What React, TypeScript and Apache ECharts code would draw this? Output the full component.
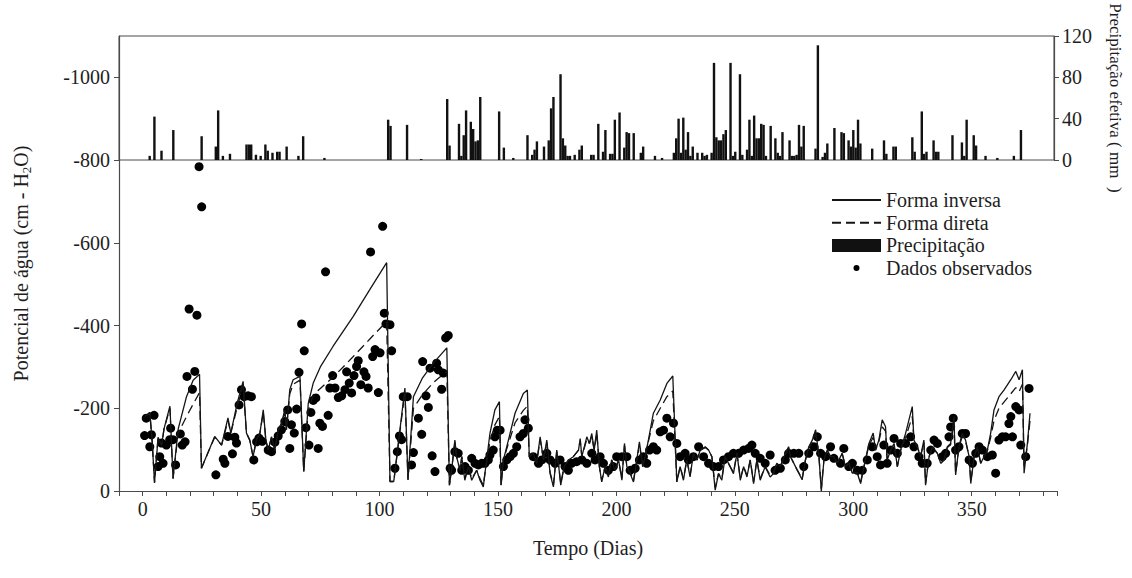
import React, { useEffect, useRef } from 'react';
import * as echarts from 'echarts';

const FONT = 'Liberation Serif';

// Tick labels
const xTickLabels = [0, 50, 100, 150, 200, 250, 300, 350];
const yLeftTicks = [-1000, -800, -600, -400, -200, 0];
const yRightTicks = [0, 40, 80, 120];

// Simulated water potential - inverse form (day, cm H2O)
const formaInversa: [number, number][] = [
  [1, -180], [3, -190], [4, -120], [5, -20], [6.5, -130], [8, -110], [9, -150], [11.5, -205], [12.8, -30],
  [15, -150], [18.5, -228], [21.3, -268], [24, -282], [24.8, -55], [30.4, -132], [33.3, -111], [36, -177],
  [37.2, -140], [40, -215], [42.4, -265], [43.8, -140], [45.2, -123], [46.6, -83], [48, -123], [49.5, -140],
  [50.9, -196], [52, -123], [53, -99], [54.4, -131], [55.8, -99], [57.2, -148], [58.6, -164], [60, -196],
  [60.7, -148], [62.1, -245], [63.5, -269], [66.4, -277], [68, -47], [69.9, -212], [72, -261], [75, -300],
  [80.4, -350], [88.9, -422], [96, -488], [103, -552], [104.4, -23], [106, -23], [110.7, -249], [112, -27],
  [114.3, -228], [118, -272], [122.7, -309], [128.4, -346],
  [129.5, -14], [130.4, -50], [131.8, -123], [132.5, -83], [134, -50], [134.7, -83], [136, -26], [137.5, -59],
  [138.9, -26], [141, -50], [142.4, -26], [143.8, -10], [144.5, -43], [146.6, -139], [148.7, -196], [150.6, -216],
  [151.3, -14], [152.3, -75], [154.4, -123], [157.2, -188], [160.7, -236], [162.4, -244], [163.2, -83],
  [164.9, -91], [166.3, -67], [167.8, -131], [169.2, -75], [170.6, -123], [172, -42], [173.4, -10], [174.8, -99],
  [175.5, -67], [176.5, -14], [177.9, -59], [179.7, -75], [181.8, -83], [184, -99], [184.7, -127], [185.4, -83],
  [187.5, -131], [188.6, -115], [189.6, -139], [190.6, -99], [191.7, -147], [192.8, -59], [193.8, -22],
  [195.2, -59], [196.6, -34], [198, -75], [199.4, -50], [200.9, -75], [202.3, -26], [203.4, -115], [204.4, -59],
  [205.8, -42], [207.2, -22], [208.6, -75], [209.7, -119], [211.1, -59], [212.1, -83], [213.5, -123],
  [215.6, -188], [218.5, -220], [221.3, -260], [223.8, -278], [225.5, -22], [226.9, -59], [228.3, -26],
  [229.7, -75], [231.1, -34], [232.5, -91], [234, -75], [235.4, -99], [237.5, -107], [238.9, -99], [240.3, -83],
  [241.7, -2], [243.1, -42], [244.5, -26], [245.9, -83], [248, -59], [249.4, -42], [250.9, -91], [252.3, -26],
  [253.7, -59], [255.1, -34], [256.5, -75], [257.9, -18], [259.3, -75], [260.7, -26], [262.8, -59], [264.9, -34],
  [266.3, -42], [267.7, -67], [269.2, -59], [271.3, -91], [272.7, -107],
  [273.5, -83], [276.3, -51], [278.4, -27], [279.8, -75], [281.2, -107], [282.7, -123], [284.1, -148],
  [285.5, -83], [286.5, 0], [287.6, -75], [289, -99], [290.4, -83], [291.8, -83], [293.2, -67], [295.3, -91],
  [296.7, -59], [298.1, -67], [299.6, -43], [301.7, -43], [303.1, -18], [304.5, -59], [306.6, -115],
  [308.4, -140], [309.4, -99], [310.8, -123], [312.2, -172], [313.6, -156], [314.3, -75], [315.8, -99],
  [317.2, -115], [318.6, -59], [320, -99], [322.1, -140], [323.5, -172], [324.9, -204], [325.6, -123],
  [327, -107], [328.4, -83], [329.8, -123], [330.5, -14], [332, -83], [333.4, -107], [335.5, -91], [336.9, -67],
  [338.3, -75], [339.7, -107], [341.1, -115], [342.5, -180], [343.2, -39], [344.6, -107], [346, -140],
  [347.4, -123], [348.9, -83], [349.6, -18], [351, -83], [352.4, -107], [353.8, -67], [355.2, -83], [356.6, -99],
  [358, -140], [359.4, -196], [361.5, -228], [363.6, -244], [366.5, -269], [368.6, -289], [370, -269],
  [371.4, -293], [372.1, -43], [373.5, -115], [374.6, -188],
];

// Simulated water potential - direct form (day, cm H2O)
const formaDireta: [number, number][] = [
  [1, -180], [3, -190], [4, -120], [5, -20], [6.5, -130], [8, -110], [9, -150], [11.5, -200], [12.8, -30],
  [15, -140], [18.5, -180], [21.3, -210], [24, -238], [24.8, -55], [30.4, -130], [33.3, -111], [36, -170],
  [37.2, -140], [40, -205], [42.4, -255], [43.8, -140], [45.2, -123], [46.6, -83], [48, -123], [49.5, -140],
  [50.9, -190], [52, -123], [53, -99], [54.4, -131], [55.8, -99], [57.2, -145], [58.6, -160], [60, -190],
  [60.7, -148], [62.1, -235], [63.5, -258], [66.4, -268], [68, -47], [69.9, -195], [72, -232], [75, -248],
  [80.4, -275], [88.9, -325], [96, -368], [103, -410], [104.4, -23], [106, -23], [110.7, -240], [112, -27],
  [114.3, -200], [118, -232], [122.7, -262], [128.4, -290],
  [129.5, -14], [130.4, -50], [131.8, -118], [132.5, -83], [134, -50], [134.7, -83], [136, -30], [137.5, -59],
  [138.9, -30], [141, -50], [142.4, -30], [143.8, -14], [144.5, -43], [146.6, -120], [148.7, -160], [150.6, -180],
  [151.3, -14], [152.3, -75], [154.4, -115], [157.2, -165], [160.7, -195], [162.4, -205], [163.2, -83],
  [164.9, -91], [166.3, -67], [167.8, -125], [169.2, -75], [170.6, -118], [172, -45], [173.4, -14], [174.8, -95],
  [175.5, -67], [176.5, -18], [177.9, -59], [179.7, -75], [181.8, -83], [184, -99], [184.7, -122], [185.4, -83],
  [187.5, -125], [188.6, -115], [189.6, -132], [190.6, -99], [191.7, -140], [192.8, -59], [193.8, -25],
  [195.2, -59], [196.6, -38], [198, -75], [199.4, -50], [200.9, -75], [202.3, -30], [203.4, -110], [204.4, -59],
  [205.8, -45], [207.2, -25], [208.6, -75], [209.7, -112], [211.1, -59], [212.1, -83], [213.5, -120],
  [215.6, -170], [218.5, -200], [221.3, -228], [223.8, -242], [225.5, -22], [226.9, -59], [228.3, -30],
  [229.7, -75], [231.1, -38], [232.5, -91], [234, -75], [235.4, -99], [237.5, -105], [238.9, -99], [240.3, -83],
  [241.7, -8], [243.1, -42], [244.5, -30], [245.9, -83], [248, -59], [249.4, -45], [250.9, -91], [252.3, -30],
  [253.7, -59], [255.1, -38], [256.5, -75], [257.9, -22], [259.3, -75], [260.7, -30], [262.8, -59], [264.9, -38],
  [266.3, -45], [267.7, -67], [269.2, -59], [271.3, -88], [272.7, -103],
  [273.5, -83], [276.3, -51], [278.4, -30], [279.8, -75], [281.2, -103], [282.7, -118], [284.1, -138],
  [285.5, -83], [286.5, -5], [287.6, -75], [289, -97], [290.4, -83], [291.8, -83], [293.2, -67], [295.3, -91],
  [296.7, -59], [298.1, -67], [299.6, -45], [301.7, -45], [303.1, -22], [304.5, -59], [306.6, -110],
  [308.4, -130], [309.4, -99], [310.8, -120], [312.2, -155], [313.6, -145], [314.3, -75], [315.8, -99],
  [317.2, -112], [318.6, -59], [320, -99], [322.1, -130], [323.5, -155], [324.9, -180], [325.6, -123],
  [327, -107], [328.4, -83], [329.8, -118], [330.5, -18], [332, -83], [333.4, -105], [335.5, -91], [336.9, -67],
  [338.3, -75], [339.7, -105], [341.1, -112], [342.5, -165], [343.2, -42], [344.6, -105], [346, -132],
  [347.4, -120], [348.9, -83], [349.6, -22], [351, -83], [352.4, -105], [353.8, -67], [355.2, -83], [356.6, -97],
  [358, -130], [359.4, -170], [361.5, -200], [363.6, -215], [366.5, -235], [368.6, -250], [370, -240],
  [371.4, -258], [372.1, -60], [373.5, -110], [374.6, -170],
];

// Observed data (day, cm H2O)
const dadosObservados: [number, number][] = [
  [0.8, -134], [1.5, -176], [3, -107], [3.7, -136], [4.8, -183], [6.5, -59], [7.2, -83], [7.9, -116], [8.6, -67],
  [10, -111], [11.4, -124], [11.8, -152], [12.8, -124], [13.9, -63], [15.9, -138], [16.7, -111], [17.9, -119],
  [18.7, -277], [19.6, -440], [21, -246], [22, -289], [22.9, -425], [23.8, -784], [24.9, -687], [30.9, -39],
  [34, -77], [34.7, -67], [36, -132], [37.9, -90], [38.9, -130], [39.6, -116], [40.7, -208], [41.7, -245],
  [42.8, -228], [44.5, -230], [45.9, -228], [46.9, -75], [48.1, -119], [49.1, -128], [50.5, -120], [53, -99],
  [54.4, -95], [55.8, -118], [57.2, -133], [58.6, -148], [60, -168], [61.2, -196], [62.1, -103], [62.8, -160],
  [64, -140], [65, -198], [66, -287], [67.1, -404], [68.2, -339], [68.9, -153], [70.2, -111], [71, -190],
  [72, -219], [73.1, -225], [74.1, -103], [74.8, -164], [75.9, -156], [77.2, -530], [78.3, -183], [79, -249],
  [80.2, -279], [81.2, -249], [82.6, -226], [84, -230], [85.4, -245], [86.1, -288], [87.2, -261], [88.2, -237],
  [89.2, -279], [90.3, -301], [91, -315], [92.1, -257], [93.4, -288], [94.3, -277], [95.2, -249], [96.2, -578],
  [97.1, -325], [98.1, -342], [99.5, -238], [100.2, -334], [101.3, -640], [102, -430], [102.7, -404],
  [104.4, -402], [105.1, -339], [106.5, -55], [107.5, -95], [108.4, -133], [109.3, -124], [110, -228],
  [111.7, -228], [113.5, -63], [114.3, -93], [116.4, -176], [117.8, -137], [118.2, -313], [119.6, -230],
  [120.6, -202], [121.3, -297], [122.2, -85], [123.4, -47], [124.1, -309], [124.8, -293], [126.2, -246],
  [126.9, -285], [127.9, -370], [129, -376], [129.8, -55],
  [130.4, -50], [131.8, -95], [133.2, -91], [134.7, -50], [136.1, -59], [137.5, -50], [138.9, -79], [140.3, -67],
  [141.7, -63], [143.1, -67], [144.5, -67], [145.9, -75], [146.6, -87], [148, -99], [148.7, -131], [149.7, -147],
  [150.9, -147], [152.3, -59], [153.7, -75], [155.1, -83], [156.5, -91], [157.9, -107], [159.3, -131],
  [160.7, -139], [161.4, -172], [162.8, -152], [164.9, -83], [167.1, -67], [168.5, -75], [170.6, -91], [172, -75],
  [174.1, -67], [176.2, -75], [178.3, -59], [179.7, -50], [181.1, -67], [183.2, -71], [185.4, -75], [187.5, -67],
  [189.6, -91], [191, -75], [193.1, -83], [194.5, -67], [196.6, -50], [198.7, -59], [200.1, -83], [202.3, -83],
  [204.4, -83], [205.8, -50], [207.9, -55], [209.7, -75], [211.4, -83], [212.8, -67], [214, -99], [215.6, -107],
  [217, -99], [218.5, -143], [219.9, -147], [221.3, -176], [222.7, -131], [224.1, -164], [225.5, -115],
  [226.9, -83], [229, -91], [230.4, -75], [232.5, -83], [234.7, -107], [236.8, -83], [238.9, -67], [241, -59],
  [243.1, -59], [245.2, -75], [247.3, -83], [249.4, -91], [251.6, -91], [253.7, -99], [255.8, -103],
  [257.2, -111], [258.6, -91], [260.7, -79], [262.8, -67], [264.9, -87], [267, -50], [269.2, -55], [271.3, -75],
  [272.7, -91],
  [274.9, -91], [277, -91], [279.1, -59], [281.2, -91], [283.4, -107], [284.8, -131], [286.2, -91], [288.3, -83],
  [290.4, -107], [291.8, -79], [294.6, -67], [296, -103], [298.1, -59], [299.6, -67], [301.7, -50], [303.8, -50],
  [305.9, -75], [308, -107], [310.1, -83], [311.5, -63], [312.9, -111], [314.3, -67], [315.8, -99], [317.2, -127],
  [318.6, -91], [320, -115], [322.1, -115], [324.2, -131], [325.6, -107], [327.7, -83], [329.1, -67],
  [331.2, -67], [332.7, -99], [334.1, -123], [335.5, -115], [337.6, -83], [339, -91], [340.4, -131],
  [341.1, -155], [342.2, -176], [343.2, -99], [344.6, -107], [346, -139], [347.4, -139], [348.9, -75],
  [350.3, -67], [351.7, -91], [353.1, -107], [354.5, -99], [356.6, -83], [358.7, -87], [360.1, -43],
  [361.5, -123], [362.9, -131], [364.3, -131], [365.7, -163], [366.5, -180], [367.2, -131], [368.6, -204],
  [370, -196], [370.7, -111], [372.8, -83], [374.2, -248],
];

// Effective precipitation (day, mm)
const precipitacao: [number, number][] = [
  [3, 4], [5, 42], [8, 9], [13, 29], [25, 23], [31, 13], [32, 48], [34, 4], [37, 6], [44, 15], [45, 15], [46, 15],
  [48, 5], [50, 4], [52, 15], [53, 9], [55, 7], [57, 8], [58, 8], [61, 13], [66, 4], [68, 23], [77, 2],
  [104, 39], [105, 33], [112, 34], [118, 1],
  [129, 59], [130, 14], [134, 35], [135, 4], [136, 24], [137, 48], [139, 37], [140, 30], [141, 18], [142, 19],
  [143, 61], [151, 47], [153, 12], [157, 2], [163, 24], [165, 5], [166, 10], [167, 18], [170, 13], [172, 19],
  [173, 50], [174, 61], [177, 83], [178, 21], [179, 14], [180, 4], [181, 4], [183, 5], [185, 10], [186, 14],
  [190, 5], [191, 5], [193, 35], [195, 8], [196, 29], [198, 6], [199, 6], [200, 39], [202, 46], [204, 12],
  [205, 27], [206, 26], [208, 26], [211, 7], [212, 13], [217, 4], [220, 2], [225, 7], [226, 21], [227, 40],
  [228, 7], [229, 41], [230, 10], [231, 27], [232, 4], [233, 13], [235, 7], [237, 7], [238, 4], [239, 5],
  [241, 7], [242, 94], [243, 22], [244, 19], [245, 19], [246, 25], [247, 29], [249, 94], [250, 4], [251, 8],
  [253, 83], [254, 5], [256, 10], [257, 39], [258, 4], [259, 43], [260, 21], [261, 21], [262, 35], [263, 34],
  [264, 4], [266, 33], [268, 21], [269, 7], [270, 4], [271, 27], [274, 19], [275, 4], [276, 4], [277, 5],
  [278, 34], [279, 13], [280, 33], [285, 11], [286, 111], [288, 3], [289, 7], [290, 16], [293, 31], [296, 27],
  [297, 26], [299, 19], [300, 13], [301, 29], [302, 12], [303, 39], [304, 16], [309, 11], [314, 19], [315, 6],
  [318, 13], [319, 13], [326, 22], [327, 8], [330, 47], [331, 6], [332, 8], [335, 19], [336, 8], [337, 8],
  [343, 24], [347, 17], [348, 4], [349, 39], [352, 24], [353, 14], [357, 4], [362, 2], [369, 4], [372, 29],
];

const AXIS_COLOR = '#4a4a4a';
const TEXT_COLOR = '#1e1e1e';
// small dot centred in a 49x13 legend box (moves widen the bounding box)
const DOT_ICON = 'path://M0,0 M49,13 M21.5,6.5 A3,3 0 1,0 27.5,6.5 A3,3 0 1,0 21.5,6.5 Z';

function buildOption(): any {
  return {
    animation: false,
    backgroundColor: '#ffffff',
    textStyle: { fontFamily: FONT, color: TEXT_COLOR },
    grid: [
      { left: 119, right: 75, top: 36, bottom: 87, show: false },
      {
        left: 119, right: 75, top: 36, height: 124, show: true,
        borderColor: AXIS_COLOR, borderWidth: 1, backgroundColor: 'transparent',
      },
    ],
    legend: {
      orient: 'vertical', left: 826, top: 185, itemWidth: 49, itemHeight: 13, itemGap: 2.7,
      selectedMode: false,
      data: [
        { name: 'Forma inversa', itemStyle: { opacity: 0 } },
        { name: 'Forma direta', itemStyle: { opacity: 0 } },
        { name: 'Precipitação', icon: 'rect' },
        { name: 'Dados observados', icon: DOT_ICON },
      ],
      textStyle: { fontFamily: FONT, fontSize: 20, color: TEXT_COLOR },
    },
    xAxis: [
      {
        type: 'value', gridIndex: 0, min: -10, max: 386, interval: 10,
        name: 'Tempo (Dias)', nameLocation: 'middle', nameGap: 47,
        nameTextStyle: { fontFamily: FONT, fontSize: 20, color: TEXT_COLOR },
        axisLine: { show: true, onZero: false, lineStyle: { color: AXIS_COLOR, width: 1.2 } },
        axisTick: { show: true, inside: false, length: 5, lineStyle: { color: AXIS_COLOR } },
        axisLabel: {
          margin: 8, fontFamily: FONT, fontSize: 20, color: TEXT_COLOR,
          formatter: (v: number) => (xTickLabels.indexOf(v) >= 0 ? String(v) : ''),
        },
        splitLine: { show: false },
      },
      {
        type: 'value', gridIndex: 1, min: -10, max: 386, show: false,
        axisLine: { onZero: false },
        splitLine: { show: false },
      },
    ],
    yAxis: [
      {
        type: 'value', gridIndex: 0, min: -1100, max: 0, inverse: true,
        name: 'Potencial de água (cm - H{sub|2}O)', nameLocation: 'middle', nameGap: 86,
        nameTextStyle: {
          fontFamily: FONT, fontSize: 20, color: TEXT_COLOR, lineHeight: 24,
          rich: { sub: { fontFamily: FONT, fontSize: 13, lineHeight: 14, verticalAlign: 'bottom', color: TEXT_COLOR } },
        },
        axisLine: { show: true, onZero: false, lineStyle: { color: AXIS_COLOR, width: 1.2 } },
        axisTick: { show: true, inside: false, length: 5, customValues: yLeftTicks, lineStyle: { color: AXIS_COLOR } },
        axisLabel: {
          margin: 9, fontFamily: FONT, fontSize: 20, color: TEXT_COLOR, customValues: yLeftTicks,
          formatter: (v: number) => (yLeftTicks.indexOf(v) >= 0 ? String(v) : ''),
        },
        splitLine: { show: false },
      },
      {
        type: 'value', gridIndex: 1, position: 'right', min: 0, max: 120, interval: 40,
        name: 'Precipitação efetiva ( mm  )', nameLocation: 'middle', nameGap: 53, nameRotate: -90,
        nameTextStyle: { fontFamily: FONT, fontSize: 17, color: TEXT_COLOR },
        axisLine: { show: true, onZero: false, lineStyle: { color: AXIS_COLOR, width: 1.2 } },
        axisTick: { show: true, inside: false, length: 5, lineStyle: { color: AXIS_COLOR } },
        axisLabel: {
          margin: 8, fontFamily: FONT, fontSize: 20, color: TEXT_COLOR,
          formatter: (v: number) => (yRightTicks.indexOf(v) >= 0 ? String(v) : ''),
        },
        splitLine: { show: false },
      },
    ],
    series: [
      {
        name: 'Dados observados', type: 'scatter', xAxisIndex: 0, yAxisIndex: 0,
        data: dadosObservados, symbol: 'circle', symbolSize: 9,
        itemStyle: { color: '#000000', opacity: 1 }, z: 2,
      },
      {
        name: 'Forma inversa', type: 'line', xAxisIndex: 0, yAxisIndex: 0,
        data: formaInversa, symbol: 'none', showSymbol: false,
        lineStyle: { color: '#151515', width: 1.3 }, itemStyle: { color: '#151515', opacity: 0 }, z: 3,
      },
      {
        name: 'Forma direta', type: 'line', xAxisIndex: 0, yAxisIndex: 0,
        data: formaDireta, symbol: 'none', showSymbol: false,
        lineStyle: { color: '#151515', width: 1.3, type: [9, 5] }, itemStyle: { color: '#151515', opacity: 0 }, z: 3,
      },
      {
        name: 'Precipitação', type: 'bar', xAxisIndex: 1, yAxisIndex: 1,
        data: precipitacao, barWidth: 2.4,
        itemStyle: { color: '#111111' }, z: 3,
      },
    ],
  };
}

export default function App() {
  const ref = useRef<HTMLDivElement>(null);
  useEffect(() => {
    document.body.style.margin = '0';
    const chart = echarts.init(ref.current as HTMLDivElement, null, { renderer: 'svg' });
    chart.setOption(buildOption());
    return () => chart.dispose();
  }, []);
  return <div ref={ref} style={{ width: 1132, height: 578 }} />;
}
